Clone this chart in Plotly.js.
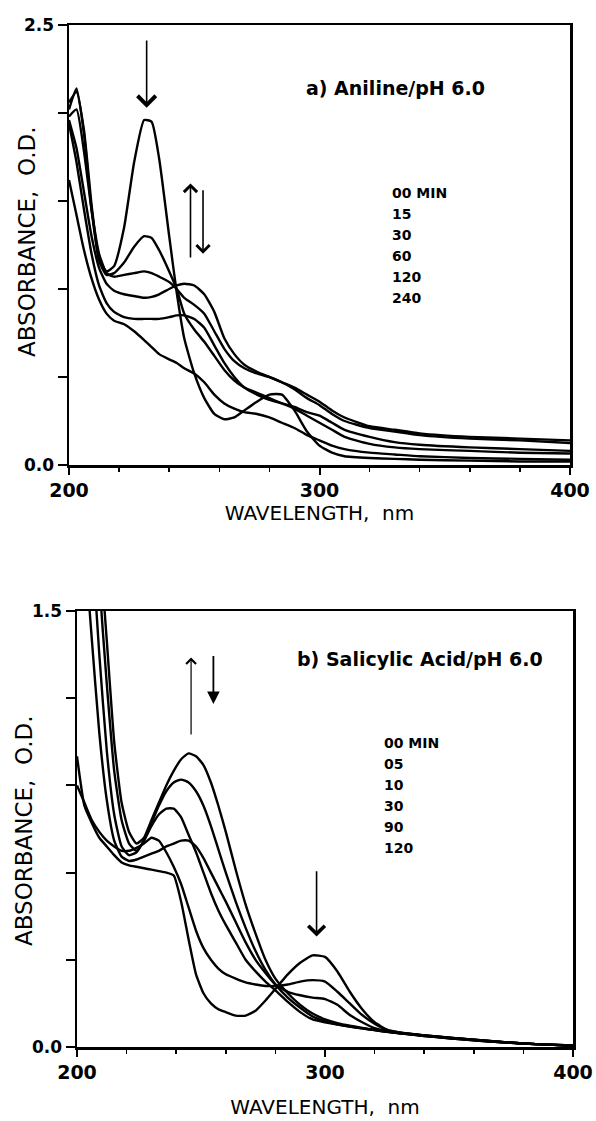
<!DOCTYPE html>
<html>
<head>
<meta charset="utf-8">
<script src="https://cdn.plot.ly/plotly-3.0.1.min.js"></script>
<style>html,body{margin:0;padding:0;background:#fff}#chart{width:596px;height:1121px}</style>
</head>
<body>
<div id="chart"></div>
<script>
// ---------- Panel a) Aniline / pH 6.0 ----------
const wavelengthA = [200,203,206,209,212,215,218,222,226,230,233,236,240,243,246,250,254,258,262,266,270,275,280,285,290,295,300,305,310,320,330,340,360,380,400];
const aniline00 = [2.02,2.14,1.88,1.45,1.17,1.10,1.13,1.35,1.72,1.96,1.95,1.74,1.30,0.98,0.72,0.52,0.38,0.29,0.26,0.27,0.31,0.36,0.40,0.40,0.31,0.19,0.11,0.07,0.05,0.04,0.035,0.03,0.025,0.02,0.02];
const aniline15 = [2.06,2.12,1.90,1.48,1.16,1.08,1.09,1.15,1.24,1.30,1.29,1.22,1.10,1.00,0.86,0.77,0.70,0.62,0.54,0.48,0.44,0.41,0.38,0.35,0.32,0.28,0.24,0.20,0.16,0.12,0.10,0.09,0.08,0.07,0.065];
const aniline30 = [1.98,2.02,1.78,1.45,1.20,1.09,1.07,1.08,1.09,1.10,1.09,1.07,1.04,1.00,0.95,0.91,0.86,0.76,0.66,0.59,0.55,0.52,0.50,0.47,0.44,0.40,0.36,0.31,0.27,0.22,0.20,0.18,0.16,0.15,0.14];
const aniline60 = [1.96,1.80,1.55,1.30,1.12,1.03,0.99,0.97,0.96,0.95,0.955,0.97,1.00,1.02,1.03,1.02,0.97,0.87,0.72,0.63,0.57,0.53,0.50,0.47,0.43,0.38,0.34,0.29,0.25,0.21,0.19,0.17,0.15,0.14,0.125];
const aniline120 = [1.94,1.72,1.45,1.20,1.02,0.92,0.87,0.84,0.83,0.83,0.83,0.83,0.84,0.85,0.85,0.83,0.78,0.68,0.58,0.50,0.44,0.40,0.37,0.35,0.33,0.30,0.28,0.24,0.20,0.16,0.13,0.115,0.10,0.09,0.08];
const aniline240 = [1.62,1.42,1.22,1.06,0.94,0.86,0.82,0.80,0.76,0.71,0.67,0.63,0.60,0.58,0.55,0.52,0.47,0.40,0.35,0.32,0.30,0.29,0.27,0.24,0.21,0.17,0.14,0.11,0.09,0.07,0.06,0.05,0.04,0.035,0.03];
const anilineTimes = ['00 MIN','15','30','60','120','240'];

// ---------- Panel b) Salicylic Acid / pH 6.0 ----------
const wavelengthB = [200,203,206,209,212,215,218,221,224,227,230,233,236,239,242,245,248,251,254,257,260,264,268,272,276,280,285,290,295,300,305,310,315,320,325,330,340,350,360,370,380,390,400];
const salicylic00 = [1.00,0.83,0.77,0.72,0.69,0.66,0.635,0.625,0.62,0.615,0.61,0.605,0.60,0.59,0.50,0.37,0.25,0.185,0.15,0.13,0.12,0.108,0.108,0.125,0.16,0.20,0.25,0.29,0.315,0.31,0.26,0.19,0.13,0.085,0.06,0.05,0.04,0.032,0.025,0.018,0.012,0.008,0.005];
const salicylic05 = [0.90,0.84,0.78,0.74,0.71,0.69,0.675,0.675,0.685,0.70,0.72,0.71,0.67,0.62,0.56,0.48,0.40,0.34,0.30,0.27,0.25,0.235,0.222,0.215,0.21,0.21,0.215,0.225,0.23,0.225,0.19,0.15,0.11,0.08,0.058,0.05,0.04,0.032,0.025,0.018,0.012,0.008,0.005];
const salicylic10 = [2.4,1.75,1.40,1.08,0.85,0.71,0.655,0.64,0.645,0.655,0.665,0.675,0.69,0.70,0.71,0.71,0.69,0.65,0.60,0.55,0.50,0.43,0.36,0.30,0.255,0.215,0.19,0.178,0.17,0.165,0.145,0.11,0.085,0.065,0.055,0.048,0.04,0.032,0.025,0.018,0.012,0.008,0.005];
const salicylic30 = [2.9,2.3,1.75,1.35,1.02,0.80,0.69,0.66,0.67,0.71,0.76,0.80,0.82,0.82,0.79,0.73,0.67,0.60,0.53,0.47,0.42,0.36,0.30,0.26,0.225,0.195,0.155,0.12,0.095,0.085,0.077,0.07,0.064,0.058,0.052,0.047,0.038,0.03,0.023,0.017,0.012,0.008,0.005];
const salicylic90 = [3.4,2.8,2.2,1.75,1.40,1.05,0.84,0.74,0.70,0.72,0.78,0.84,0.90,0.95,0.99,1.01,1.00,0.97,0.91,0.83,0.74,0.61,0.49,0.39,0.30,0.235,0.185,0.145,0.115,0.095,0.082,0.073,0.066,0.059,0.053,0.048,0.039,0.031,0.024,0.017,0.012,0.008,0.004];
const salicylic120 = [3.1,2.6,2.05,1.60,1.25,0.95,0.78,0.70,0.675,0.71,0.77,0.83,0.88,0.91,0.92,0.91,0.88,0.83,0.76,0.68,0.60,0.50,0.41,0.33,0.265,0.215,0.17,0.135,0.105,0.088,0.078,0.07,0.064,0.058,0.052,0.047,0.038,0.03,0.023,0.017,0.012,0.008,0.004];
const salicylicTimes = ['00 MIN','05','10','30','90','120'];

const FONT = 'DejaVu Sans, Arial, sans-serif';
const W = 596, H = 1121;
const px = v => v / W, py = v => 1 - v / H;

function line(x, y, xa, ya) {
  return {type:'scatter', mode:'lines', x:x, y:y, xaxis:xa, yaxis:ya, hoverinfo:'skip',
          line:{color:'#000', width:2.4, shape:'spline', smoothing:0.5}};
}
const traces = [
  ...[aniline00, aniline15, aniline30, aniline60, aniline120, aniline240].map(s => line(wavelengthA, s, 'x', 'y')),
  ...[salicylic00, salicylic05, salicylic10, salicylic30, salicylic90, salicylic120].map(s => line(wavelengthB, s, 'x2', 'y2'))
];

function xAxis(dom, anchor, standoff) {
  return {domain:dom, anchor:anchor, range:[200,400], tickmode:'array', tickvals:[200,300,400],
    ticks:'outside', ticklen:7, tickwidth:2, tickcolor:'#000', ticklabeloverflow:'allow',
    minor:{tickmode:'linear', tick0:200, dtick:20, ticks:'outside', ticklen:4, tickwidth:1.5, tickcolor:'#000'},
    showline:true, linewidth:2.5, linecolor:'#000', mirror:true, showgrid:false, zeroline:false, automargin:false,
    tickfont:{family:FONT, size:19, color:'#000', weight:'bold'},
    title:{text:'WAVELENGTH,\u00a0\u00a0nm', font:{family:FONT, size:20, color:'#000'}, standoff:standoff}};
}
function yAxis(dom, anchor, top, step) {
  const vals = []; for (let v = 0; v <= top + 1e-9; v += step) vals.push(+v.toFixed(2));
  const txt = vals.map((v,i) => (i === 0 || i === vals.length-1) ? v.toFixed(1) : '');
  return {domain:dom, anchor:anchor, range:[0,top], tickmode:'array', tickvals:vals, ticktext:txt,
    ticks:'outside', ticklen:9, tickwidth:2, tickcolor:'#000', ticklabeloverflow:'allow',
    showline:true, linewidth:2.5, linecolor:'#000', mirror:true, showgrid:false, zeroline:false, automargin:false,
    tickfont:{family:FONT, size:17, color:'#000', weight:'bold'}};
}

function arrow(xr, yr, x, yTail, yHead, head, width, size) {
  return {xref:xr, yref:yr, axref:xr, ayref:yr, x:x, y:yHead, ax:x, ay:yTail, text:'', showarrow:true,
          arrowhead:head, arrowsize:size, arrowwidth:width, arrowcolor:'#000', standoff:0, startstandoff:0};
}
function label(xr, yr, x, y, text, size, weight) {
  return {xref:xr, yref:yr, x:x, y:y, text:text, showarrow:false, xanchor:'left', yanchor:'middle',
          font:{family:FONT, size:size, color:'#000', weight:weight}};
}
function yTitle(xPix, yPix) {
  return {xref:'paper', yref:'paper', x:px(xPix), y:py(yPix), text:'ABSORBANCE,\u00a0\u00a0O.D.', textangle:-90,
          showarrow:false, xanchor:'center', yanchor:'middle', font:{family:FONT, size:23, color:'#000'}};
}

const annotations = [
  yTitle(27, 242),
  arrow('x','y', 231, 2.42, 2.03, 4, 1.6, 2.2),
  arrow('x','y', 248.5, 1.17, 1.60, 4, 1.6, 1.6),
  arrow('x','y', 253.5, 1.57, 1.20, 4, 1.6, 1.6),
  label('x','y', 294, 2.14, 'a) Aniline/pH 6.0', 19, 'bold'),
  ...anilineTimes.map((t,i) => label('x','y', 328, 1.545 - i*0.119, t, 14, 'bold')),
  yTitle(24, 831),
  arrow('x2','y2', 246, 1.07, 1.34, 4, 1.2, 1.6),
  arrow('x2','y2', 255, 1.35, 1.18, 2, 1.8, 1.4),
  arrow('x2','y2', 296.6, 0.61, 0.38, 4, 1.6, 2.0),
  label('x2','y2', 288, 1.335, 'b) Salicylic Acid/pH 6.0', 19, 'bold'),
  ...salicylicTimes.map((t,i) => label('x2','y2', 323, 1.045 - i*0.072, t, 14, 'bold'))
];

const layout = {
  width:W, height:H, margin:{l:0,r:0,t:0,b:0}, paper_bgcolor:'#fff', plot_bgcolor:'#fff',
  showlegend:false, font:{family:FONT, color:'#000'},
  xaxis: xAxis([px(69), px(570)], 'y', 6),
  yaxis: yAxis([py(465), py(25)], 'x', 2.5, 0.5),
  xaxis2: xAxis([px(77), px(573)], 'y2', 18),
  yaxis2: yAxis([py(1047), py(611)], 'x2', 1.5, 0.3),
  annotations: annotations
};

Plotly.newPlot('chart', traces, layout, {staticPlot:true, displayModeBar:false});
</script>
</body>
</html>
